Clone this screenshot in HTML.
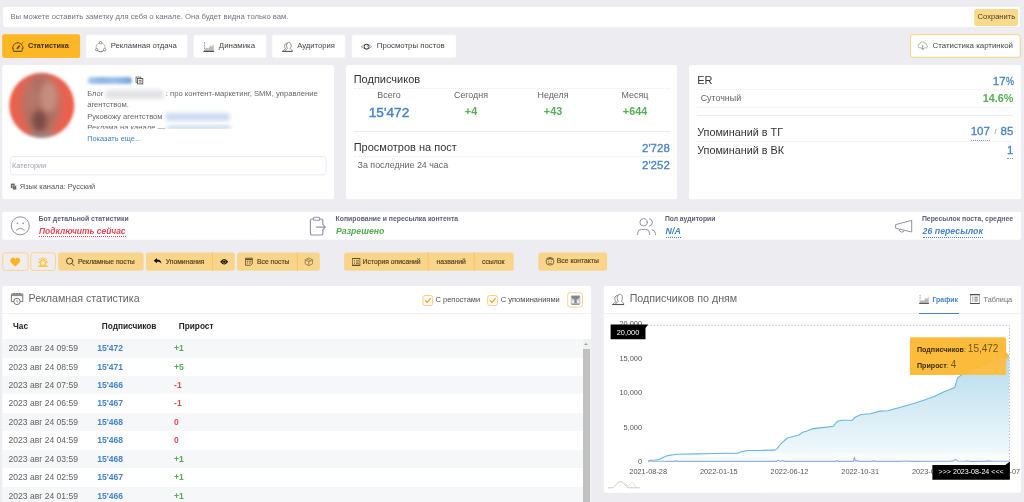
<!DOCTYPE html>
<html><head><meta charset="utf-8">
<style>
*{box-sizing:border-box;margin:0;padding:0}
html,body{width:1024px;height:502px;overflow:hidden;background:#ececf1;font-family:"Liberation Sans",sans-serif;color:#333}
.a{position:absolute}
.w{position:absolute;background:#fff;border-radius:2px}
.t{position:absolute;white-space:nowrap;line-height:1}
.blue{color:#4483c7}.green{color:#52af52}.red{color:#df4854}
.b{font-weight:bold}.i{font-style:italic}
.tab{position:absolute;top:34px;height:24px;font-size:7.75px;color:#44444a}
.tab span{position:absolute;top:8px;white-space:nowrap;line-height:1}
.btn{position:absolute;top:252.4px;height:18.4px;font-size:6.8px;color:#54451f;-webkit-text-stroke:.18px #54451f}
.btn span{position:absolute;top:7px;white-space:nowrap;line-height:1}
.dot{position:absolute;height:0;border-top:1px dotted #ececf0}
.sol{position:absolute;height:1px;background:#ebebee}
.row{position:absolute;left:2px;width:581px;height:18.43px}
.row.g{background:#f6f7f9}
.row span{position:absolute;top:5px;font-size:8.55px;line-height:1;white-space:nowrap}
.row .d{left:6.5px;color:#606066}
.row .s{left:95.3px;color:#4483c7;font-weight:bold}
.row .p{left:172.1px;font-weight:bold;font-size:8.5px;top:5.1px}
.ds{font-size:7.65px;color:#66666c}
.lbl{font-size:6.86px;color:#5c5f70;font-weight:bold}
.val{font-size:8.7px;font-weight:bold;font-style:italic}
.h{font-size:11px;color:#333}
.hv{font-size:11.5px;color:#4483c7;-webkit-text-stroke:.3px #4483c7}
.sm{font-size:8.9px;color:#626268}
.xl{width:60px;text-align:center;top:468.2px;font-size:7.4px;color:#555}
</style></head><body><div id="pg" style="position:absolute;left:0;top:0;width:1024px;height:502px;overflow:hidden;will-change:transform">
<svg class="a" style="left:0;top:0" width="1024" height="502" viewBox="0 0 1024 502"><rect x="3" y="6.9" width="1017" height="20" rx="2" fill="#fff"/><rect x="974.2" y="8.9" width="43.9" height="17" rx="2" fill="#fbd98c"/><rect x="2.2" y="34.3" width="77.9" height="23.8" rx="2" fill="#fdb724"/><rect x="85.7" y="34.6" width="101.99999999999999" height="23.4" rx="2" fill="#fff" stroke="#e9edf6" stroke-width="0.6"/><rect x="193.4" y="34.6" width="72.99999999999997" height="23.4" rx="2" fill="#fff" stroke="#e9edf6" stroke-width="0.6"/><rect x="271.9" y="34.6" width="73.40000000000003" height="23.4" rx="2" fill="#fff" stroke="#e9edf6" stroke-width="0.6"/><rect x="351.7" y="34.6" width="104.5" height="23.4" rx="2" fill="#fff" stroke="#e9edf6" stroke-width="0.6"/><rect x="910.6" y="34.7" width="109.7" height="22.6" rx="2.5" fill="#fff" stroke="#f7d07e" stroke-width="1"/><rect x="2.2" y="65" width="331.8" height="134.3" rx="2" fill="#fff"/><rect x="346" y="65" width="331" height="134.3" rx="2" fill="#fff"/><rect x="689" y="65" width="332" height="134.3" rx="2" fill="#fff"/><rect x="10.5" y="156.5" width="315.5" height="18.3" rx="2.5" fill="#fff" stroke="#e7e9f0" stroke-width="0.9"/><rect x="2.2" y="211.8" width="1018.8" height="27.9" rx="2" fill="#fff"/><rect x="2.7" y="252.8" width="25.4" height="17.6" rx="2.5" fill="#efedee" stroke="#f9d58e" stroke-width="1"/><rect x="30.8" y="252.8" width="24.6" height="17.6" rx="2.5" fill="#efedee" stroke="#f9d58e" stroke-width="1"/><rect x="58.1" y="252.4" width="85.5" height="18.4" rx="2.5" fill="#f8d58b"/><rect x="145.9" y="252.4" width="88.9" height="18.4" rx="2.5" fill="#f8d58b"/><rect x="237" y="252.4" width="82.80000000000001" height="18.4" rx="2.5" fill="#f8d58b"/><rect x="344.1" y="252.4" width="169.60000000000002" height="18.4" rx="2.5" fill="#f8d58b"/><rect x="538.3" y="252.4" width="68.80000000000007" height="18.4" rx="2.5" fill="#f8d58b"/><rect x="211.9" y="252.4" width="0.9" height="18.4" fill="#f4c463"/><rect x="296.90000000000003" y="252.4" width="0.9" height="18.4" fill="#f4c463"/><rect x="427.8" y="252.4" width="0.9" height="18.4" fill="#f4c463"/><rect x="473.8" y="252.4" width="0.9" height="18.4" fill="#f4c463"/><rect x="2.2" y="285.9" width="589" height="230" rx="2" fill="#fff"/><rect x="603.7" y="285.9" width="417.3" height="206.8" rx="2" fill="#fff"/><rect x="422.9" y="295.5" width="9.7" height="9.9" rx="2" fill="#fff" stroke="#f8cf82" stroke-width="1"/><rect x="487.7" y="295.5" width="9.7" height="9.9" rx="2" fill="#fff" stroke="#f8cf82" stroke-width="1"/><rect x="567.7" y="292.7" width="14.8" height="14.4" rx="2.5" fill="#fff" stroke="#f9d48a" stroke-width="1"/><defs><filter id="bl1" x="-20%" y="-20%" width="140%" height="140%"><feGaussianBlur stdDeviation="2.4"/></filter><filter id="bl2" x="-20%" y="-20%" width="140%" height="140%"><feGaussianBlur stdDeviation="1.7"/></filter><clipPath id="avc"><circle cx="41.8" cy="105.4" r="32.6"/></clipPath></defs>
<g filter="url(#bl2)"><g clip-path="url(#avc)"><circle cx="41.8" cy="105.4" r="33" fill="#ea614e"/><g filter="url(#bl1)"><ellipse cx="41" cy="105" rx="21" ry="32" fill="#c4705f"/><ellipse cx="40.5" cy="106" rx="15" ry="30" fill="#ad6e63"/><ellipse cx="48.5" cy="97" rx="8.5" ry="15" fill="#c68d7f"/><ellipse cx="32" cy="98" rx="5" ry="13" fill="#b9766a"/><ellipse cx="39.5" cy="121" rx="7.5" ry="11" fill="#7a4e44"/><ellipse cx="43" cy="137" rx="17" ry="3.6" fill="#9a8a88"/></g></g></g></svg>
<!-- note bar -->
<div class="t" style="left:10.5px;top:13.3px;font-size:7.68px;color:#74747c">Вы можете оставить заметку для себя о канале. Она будет видна только вам.</div>
<div class="t" style="left:977.6px;top:13.3px;font-size:7.57px;color:#4a4020">Сохранить</div>

<!-- tabs -->
<div class="tab" style="left:2.2px;width:78px;color:#3d3015"><span class="b" style="left:25.7px;font-size:7.34px;top:8.3px">Статистика</span></div>
<div class="tab" style="left:85.5px;width:102.3px"><span style="left:25.2px">Рекламная отдача</span></div>
<div class="tab" style="left:193.4px;width:73px"><span style="left:25.4px;font-size:7.9px">Динамика</span></div>
<div class="tab" style="left:271.9px;width:73.4px"><span style="left:25.4px;font-size:7.65px">Аудитория</span></div>
<div class="tab" style="left:351.7px;width:104.5px"><span style="left:25.1px;font-size:7.82px">Просмотры постов</span></div>
<div class="tab" style="left:910.1px;width:110.7px;top:34px;height:24px"><span style="left:22.5px;top:8px;font-size:7.88px">Статистика картинкой</span></div>

<!-- card 1 -->
<div class="a" style="left:87.5px;top:76.6px;width:44px;height:7.2px;border-radius:3px;background:linear-gradient(90deg,#a9c7ea,#8fb6e3 30%,#9dbfe7 60%,#79a8dd 95%);filter:blur(1.5px)"></div>
<div class="t ds" style="left:87.2px;top:90.2px;font-size:7.5px">Блог</div>
<div class="a" style="left:105px;top:89.5px;width:59px;height:9px;border-radius:4px;background:#e2e2e6;filter:blur(2.2px)"></div>
<div class="t ds" style="left:165.8px;top:90.2px">: про контент-маркетинг, SMM, управление</div>
<div class="t ds" style="left:87.2px;top:101.2px">агентством.</div>
<div class="t ds" style="left:87.2px;top:112.9px">Руковожу агентством</div>
<div class="a" style="left:165px;top:112.5px;width:65px;height:8.5px;border-radius:4px;background:#c9dbf0;filter:blur(2.2px)"></div>
<div class="a" style="left:86px;top:124px;width:248px;height:5.4px;overflow:hidden"><div class="t ds" style="left:1.2px;top:0;">Реклама на канале —</div><div class="a" style="left:81px;top:1px;width:64px;height:8px;border-radius:4px;background:#cfdff1;filter:blur(2.2px)"></div></div>
<div class="a" style="left:86px;top:128.4px;width:248px;height:1.2px;background:linear-gradient(rgba(255,255,255,0),#fff)"></div>
<div class="t blue" style="left:87.2px;top:135.4px;font-size:7.4px">Показать еще...</div>
<div class="t" style="left:12px;top:162.2px;font-size:7.3px;color:#a3a3aa">Категории</div>
<div class="t" style="left:19.8px;top:183.2px;font-size:7.45px;color:#55555b">Язык канала: Русский</div>

<!-- card 2 -->
<div class="t h" style="left:353.7px;top:73.8px">Подписчиков</div>
<div class="dot" style="left:353.7px;width:316px;top:88.2px"></div>
<div class="t sm" style="left:348px;width:82px;text-align:center;top:91.2px">Всего</div>
<div class="t sm" style="left:430px;width:82px;text-align:center;top:91.2px">Сегодня</div>
<div class="t sm" style="left:512px;width:82px;text-align:center;top:91.2px">Неделя</div>
<div class="t sm" style="left:594px;width:82px;text-align:center;top:91.2px">Месяц</div>
<div class="t blue" style="left:348px;width:82px;text-align:center;top:105.5px;font-size:13.6px;-webkit-text-stroke:.4px #4483c7">15'472</div>
<div class="t green b" style="left:430px;width:82px;text-align:center;top:105.6px;font-size:10.8px">+4</div>
<div class="t green b" style="left:512px;width:82px;text-align:center;top:105.6px;font-size:10.8px">+43</div>
<div class="t green b" style="left:594px;width:82px;text-align:center;top:105.6px;font-size:10.8px">+644</div>
<div class="sol" style="left:353.7px;width:316px;top:131px"></div>
<div class="t h" style="left:353.7px;top:142px">Просмотров на пост</div>
<div class="t hv" style="right:354.2px;top:142.9px">2'728</div>
<div class="dot" style="left:353.7px;width:316px;top:155.7px"></div>
<div class="t sm" style="left:357.6px;top:160.6px">За последние 24 часа</div>
<div class="t hv" style="right:354.2px;top:160.1px">2'252</div>

<!-- card 3 -->
<div class="t h" style="left:697.2px;top:75px">ER</div>
<div class="t hv" style="right:10.6px;top:76.1px">17<span style="display:inline-block;width:7.8px"><span style="display:inline-block;transform:scaleX(.78);transform-origin:left">%</span></span></div>
<div class="dot" style="left:697.2px;width:316.2px;top:88.8px"></div>
<div class="t sm" style="left:700.7px;top:93.9px">Суточный</div>
<div class="t green b" style="right:10.6px;top:92.8px;font-size:10.8px">14.6%</div>
<div class="dot" style="left:697.2px;width:316.2px;top:106.8px"></div>
<div class="sol" style="left:697.2px;width:316.2px;top:115px"></div>
<div class="t h" style="left:697.2px;top:126.6px;font-size:10.8px">Упоминаний в ТГ</div>
<div class="t hv" style="right:10.6px;top:126.3px"><span style="border-bottom:1.2px dotted #6d9cd3;padding-bottom:2.4px">107</span><span style="font-size:7px;color:#77777c;vertical-align:1px;-webkit-text-stroke:0;padding:0 4.2px 0 4.6px">/</span>85</div>
<div class="dot" style="left:697.2px;width:316.2px;top:141px"></div>
<div class="t h" style="left:697.2px;top:145.1px;font-size:10.8px">Упоминаний в ВК</div>
<div class="t hv" style="right:10.6px;top:144.8px"><span style="border-bottom:1.2px dotted #6d9cd3;padding-bottom:2.4px">1</span></div>

<!-- info strip -->
<div class="t lbl" style="left:38.6px;top:215.6px">Бот детальной статистики</div>
<div class="t val red" style="left:39px;top:226.6px;font-size:8.44px;border-bottom:1px dotted #df4854;padding-bottom:1.2px">Подключить сейчас</div>
<div class="t lbl" style="left:335.6px;top:215.6px">Копирование и пересылка контента</div>
<div class="t val green" style="left:336px;top:226.6px">Разрешено</div>
<div class="t lbl" style="left:664.9px;top:215.6px;font-size:6.75px">Пол аудитории</div>
<div class="t val blue" style="left:665.5px;top:226.6px;font-size:8.9px;border-bottom:1px dotted #4483c7;padding-bottom:1.2px">N/A</div>
<div class="t lbl" style="left:921.9px;top:215.6px">Пересылок поста, среднее</div>
<div class="t val blue" style="left:922.6px;top:226.6px;font-size:8.77px;border-bottom:1px dotted #4483c7;padding-bottom:1.2px">26 пересылок</div>

<!-- buttons -->
<div class="btn" style="left:2.2px;width:26.3px"></div>
<div class="btn" style="left:30.3px;width:25.6px"></div>
<div class="btn" style="left:58.1px;width:85.5px"><span style="left:20px">Рекламные посты</span></div>
<div class="btn" style="left:145.9px;width:88.9px"><span style="left:19.8px">Упоминания</span></div>
<div class="btn" style="left:237px;width:82.8px"><span style="left:20px">Все посты</span></div>
<div class="btn" style="left:344.1px;width:169.6px"><span style="left:18.5px">История описаний</span><span style="left:92.5px">названий</span><span style="left:137.9px">ссылок</span></div>
<div class="btn" style="left:538.3px;width:68.8px"><span style="left:18.5px;top:6px">Все контакты</span></div>

<!-- left panel -->
<div class="t" style="left:28.5px;top:293px;font-size:10.68px;color:#66666c">Рекламная статистика</div>
<div class="sol" style="left:2.2px;width:589px;top:313.2px;background:#f0f1f5"></div>
<div class="t b" style="left:13px;top:322.6px;font-size:8.28px;color:#222">Час</div>
<div class="t b" style="left:101.8px;top:322.6px;font-size:8.28px;color:#222">Подписчиков</div>
<div class="t b" style="left:178.8px;top:322.6px;font-size:8.28px;color:#222">Прирост</div>
<div class="row g" style="top:339.10px"><span class="d">2023 авг 24 09:59</span><span class="s">15'472</span><span class="p green">+1</span></div>
<div class="row" style="top:357.53px"><span class="d">2023 авг 24 08:59</span><span class="s">15'471</span><span class="p green">+5</span></div>
<div class="row g" style="top:375.96px"><span class="d">2023 авг 24 07:59</span><span class="s">15'466</span><span class="p red">-1</span></div>
<div class="row" style="top:394.39px"><span class="d">2023 авг 24 06:59</span><span class="s">15'467</span><span class="p red">-1</span></div>
<div class="row g" style="top:412.82px"><span class="d">2023 авг 24 05:59</span><span class="s">15'468</span><span class="p red">0</span></div>
<div class="row" style="top:431.25px"><span class="d">2023 авг 24 04:59</span><span class="s">15'468</span><span class="p red">0</span></div>
<div class="row g" style="top:449.68px"><span class="d">2023 авг 24 03:59</span><span class="s">15'468</span><span class="p green">+1</span></div>
<div class="row" style="top:468.11px"><span class="d">2023 авг 24 02:59</span><span class="s">15'467</span><span class="p green">+1</span></div>
<div class="row g" style="top:486.54px"><span class="d">2023 авг 24 01:59</span><span class="s">15'466</span><span class="p green">+1</span></div>

<!-- scrollbar -->
<div class="a" style="left:582.6px;top:339.1px;width:8.6px;height:170px;background:#f1f1f1"></div>
<div class="a" style="left:582.9px;top:349px;width:7.6px;height:160px;background:#c1c1c1"></div>
<div class="a" style="left:584.4px;top:343px;width:0;height:0;border-left:2.2px solid transparent;border-right:2.2px solid transparent;border-bottom:2.6px solid #a0a0a0"></div>
<!-- checkboxes -->
<div class="t" style="left:435.6px;top:295.8px;font-size:7.47px;color:#4a4a50">С репостами</div>
<div class="t" style="left:500.7px;top:295.8px;font-size:7.54px;color:#4a4a50">С упоминаниями</div>

<!-- right panel -->
<div class="t" style="left:629.7px;top:293px;font-size:10.7px;color:#66666c">Подписчиков по дням</div>
<div class="sol" style="left:603.7px;width:417.3px;top:313.4px;background:#f0f1f5"></div>
<div class="t b blue" style="left:932.4px;top:297.1px;font-size:6.95px">График</div>
<div class="a" style="left:919.2px;top:312.6px;width:39.4px;height:1.3px;background:#4483c7"></div>
<div class="t" style="left:983.6px;top:296px;font-size:7.29px;color:#707076">Таблица</div>

<!-- y labels -->
<div class="t" style="right:382px;top:319.6px;font-size:7.4px;color:#555">20,000</div>
<div class="t" style="right:382px;top:354.8px;font-size:7.4px;color:#555">15,000</div>
<div class="t" style="right:382px;top:389.3px;font-size:7.4px;color:#555">10,000</div>
<div class="t" style="right:382px;top:423.7px;font-size:7.4px;color:#555">5,000</div>
<div class="t" style="right:382px;top:457.8px;font-size:7.4px;color:#555">0</div>
<!-- x labels -->
<div class="t xl" style="left:618.2px">2021-08-28</div>
<div class="t xl" style="left:688.8px">2022-01-15</div>
<div class="t xl" style="left:759.5px">2022-06-12</div>
<div class="t xl" style="left:830.2px">2022-10-31</div>
<div class="t xl" style="left:900.8px">2023-03-20</div>
<div class="t xl" style="left:971.3px">2023-08-07</div>

<svg class="a" style="left:0;top:0" width="1024" height="502" viewBox="0 0 1024 502">

<defs><linearGradient id="gf" gradientUnits="userSpaceOnUse" x1="0" y1="325" x2="0" y2="455"><stop offset="0" stop-color="#67b7dc" stop-opacity="0.6"/><stop offset="1" stop-color="#67b7dc" stop-opacity="0.05"/></linearGradient>
<clipPath id="cp"><rect x="640" y="320" width="380" height="133.5"/></clipPath></defs>
<path d="M648.2,461.4 L651.0,460.3 L655.0,460.0 L659.0,459.5 L663.0,457.6 L668.0,455.6 L673.0,454.7 L678.0,454.2 L698.4,453.9 L713.6,453.5 L738.2,453.1 L742.0,451.6 L747.7,450.5 L759.0,450.5 L774.9,450.1 L777.2,448.6 L779.9,444.8 L783.6,441.4 L787.4,438.0 L793.1,436.5 L798.8,435.0 L802.6,432.3 L806.4,431.2 L812.0,428.9 L817.7,428.1 L824.8,427.4 L833.5,426.2 L837.3,421.3 L841.9,420.2 L852.5,420.2 L855.1,417.2 L860.8,414.5 L870.3,413.7 L879.7,411.1 L887.3,410.7 L898.7,407.7 L913.8,403.5 L925.2,399.7 L934.6,396.3 L944.1,391.8 L954.7,387.6 L957.4,378.2 L961.1,375.1 L974.4,368.7 L985.8,363.8 L997.1,358.5 L1009.0,355.5 L1009,461.5 L648.2,461.5 Z" fill="url(#gf)" clip-path="url(#cp)"/>
<path d="M648.2,461.4 L651.0,460.3 L655.0,460.0 L659.0,459.5 L663.0,457.6 L668.0,455.6 L673.0,454.7 L678.0,454.2 L698.4,453.9 L713.6,453.5 L738.2,453.1 L742.0,451.6 L747.7,450.5 L759.0,450.5 L774.9,450.1 L777.2,448.6 L779.9,444.8 L783.6,441.4 L787.4,438.0 L793.1,436.5 L798.8,435.0 L802.6,432.3 L806.4,431.2 L812.0,428.9 L817.7,428.1 L824.8,427.4 L833.5,426.2 L837.3,421.3 L841.9,420.2 L852.5,420.2 L855.1,417.2 L860.8,414.5 L870.3,413.7 L879.7,411.1 L887.3,410.7 L898.7,407.7 L913.8,403.5 L925.2,399.7 L934.6,396.3 L944.1,391.8 L954.7,387.6 L957.4,378.2 L961.1,375.1 L974.4,368.7 L985.8,363.8 L997.1,358.5 L1009.0,355.5 L1009,461.5 L648.2,461.5 Z" fill="#67b7dc" fill-opacity="0.03"/>
<path d="M648.2,461.4 L651.0,460.3 L655.0,460.0 L659.0,459.5 L663.0,457.6 L668.0,455.6 L673.0,454.7 L678.0,454.2 L698.4,453.9 L713.6,453.5 L738.2,453.1 L742.0,451.6 L747.7,450.5 L759.0,450.5 L774.9,450.1 L777.2,448.6 L779.9,444.8 L783.6,441.4 L787.4,438.0 L793.1,436.5 L798.8,435.0 L802.6,432.3 L806.4,431.2 L812.0,428.9 L817.7,428.1 L824.8,427.4 L833.5,426.2 L837.3,421.3 L841.9,420.2 L852.5,420.2 L855.1,417.2 L860.8,414.5 L870.3,413.7 L879.7,411.1 L887.3,410.7 L898.7,407.7 L913.8,403.5 L925.2,399.7 L934.6,396.3 L944.1,391.8 L954.7,387.6 L957.4,378.2 L961.1,375.1 L974.4,368.7 L985.8,363.8 L997.1,358.5 L1009.0,355.5" fill="none" stroke="#67b7dc" stroke-width="1.1" stroke-linejoin="round"/>
<path d="M648.2,461.4 L650.0,460.6 L653.0,461.2 L660.0,461.3 L674.0,461.4 L676.0,460.9 L678.0,461.4 L776.0,461.4 L778.0,460.2 L780.0,461.3 L783.0,460.6 L785.0,461.4 L835.0,461.4 L837.0,460.6 L839.0,461.4 L853.5,461.4 L854.4,457.2 L855.3,461.0 L857.0,460.6 L859.0,461.4 L872.0,461.4 L874.0,460.9 L876.0,461.4 L900.0,461.4 L905.0,461.0 L910.0,461.4 L950.0,461.2 L953.0,460.9 L955.5,459.6 L958.0,461.0 L965.0,461.3 L967.0,460.8 L970.0,461.3 L985.0,461.3 L988.0,460.9 L993.0,461.2 L1009.0,461.3" fill="none" stroke="#8fb0e2" stroke-width="1.15" stroke-linejoin="round"/>
<path d="M647.5,325.3 H1009.5 V461.5" fill="none" stroke="#9a9aa2" stroke-width="0.7" stroke-dasharray="1.3,1.9"/>

<!-- tooltip -->
<path d="M911.4,337.2 H1004.6 a1.5,1.5 0 0 1 1.5,1.5 V352.4 L1009.4,356.1 L1006.1,359.8 V373.4 a1.5,1.5 0 0 1 -1.5,1.5 H911.4 a1.5,1.5 0 0 1 -1.5,-1.5 V338.7 a1.5,1.5 0 0 1 1.5,-1.5Z" fill="#fdb833" fill-opacity=".96"/>
<clipPath id="ttc"><rect x="909.9" y="337.2" width="96.2" height="37.7"/></clipPath><path d="M957.4,378.2 L961.1,375.1 L974.4,368.7 L985.8,363.8 L997.1,358.5 L1009,355.5 V380 H957Z" fill="#fff" fill-opacity=".07" clip-path="url(#ttc)"/>
<!-- black labels -->
<path d="M610.6,324.6 H648.2 L645.5,328 V339.3 H610.6Z" fill="#000"/>
<path d="M932.4,464.9 H1005.4 L1009.9,461.5 V479.7 H932.4Z" fill="#000"/>

<!-- speedometer -->
<g fill="none" stroke="#5a4311" stroke-opacity=".9" stroke-width=".9" stroke-linecap="round">
<path d="M13.4,50.7 A5.2,5.2 0 1 1 22.2,50.7"/><path d="M14,51.3 H21.6" stroke-width="1.3"/>
<path d="M17.4,48.3 L19.3,46.2" stroke-width="1.8"/><path d="M12.6,48.2h1.1M21.9,48.2h1.1M21.6,43.8l1.3,-1.3M17.8,42.4v.9" stroke-width=".8"/></g>
<!-- nodes -->
<g fill="none" stroke="#8c8c92" stroke-width=".75"><path d="M101.76,42.95 A4.5,4.5 0 0 1 104.95,48.46 M96.25,48.46 A4.5,4.5 0 0 1 99.44,42.95" stroke="#a0a0a6"/>
<circle cx="100.5" cy="42.7" r="1.15" fill="#fff" stroke="#6a6a70"/><circle cx="96.7" cy="49.6" r="1.15" fill="#fff" stroke="#6a6a70"/><circle cx="104.6" cy="49.6" r="1.15" fill="#fff" stroke="#6a6a70"/>
<path d="M103.78,50.48 A4.5,4.5 0 0 1 97.42,50.48" stroke="#66666c" stroke-width=".95"/></g>
<!-- area chart tab -->
<g><path d="M204.8,51 V49.2 L206.6,47.6 L208.2,48.7 L210.6,45.5 L212,46.7 L213.7,44 V51 Z" fill="#b9b9bb"/><path d="M204.5,42.2 V51" stroke="#8a8a90" stroke-width=".9" stroke-dasharray="1.6,1" fill="none"/><path d="M203.5,51.4 H214.1" stroke="#4a4a4e" stroke-width="1.1"/></g>
<!-- users tab -->
<g id="usr" fill="none" stroke="#77777c" stroke-width=".8" stroke-linejoin="round">
<path d="M283.3,51 C283.3,49.6 284.8,49.6 285.6,48.8 C284.2,47.6 284,44 286.3,43.4 C287.2,43.2 287.6,43.6 287.6,43.6"/>
<path d="M285.2,51 C285.2,49.4 287.2,49.6 287.6,48.4 C286,47 286,42.4 288.8,42.3 C291.6,42.4 291.6,47 290,48.4 C290.4,49.6 292.4,49.4 292.4,51"/>
<path d="M282,51.4 H292.7" stroke="#555" stroke-width="1.1"/></g>
<!-- eye tab -->
<g fill="none" stroke="#66666a" stroke-width=".8"><path d="M361.2,46.7 Q366.5,42.2 371.9,46.7 Q366.5,51.2 361.2,46.7Z" stroke="#99999d"/><circle cx="366.6" cy="46.7" r="2.5" stroke="#333" stroke-width="1"/><circle cx="367.3" cy="46.2" r=".8" fill="#999" stroke="none"/></g>
<!-- cloud download -->
<g fill="none" stroke="#9a9aa0" stroke-width=".8" stroke-linecap="round" transform="translate(922.7,45.5) scale(.92) translate(-922.7,-45.3)"><path d="M920.6,47.9 H919.9 A2.1,2.1 0 0 1 919.5,43.7 A2.7,2.7 0 0 1 924.3,42.3 A2.6,2.6 0 0 1 927,44.9 A1.6,1.6 0 0 1 926,47.9 H924.8"/><path d="M922.7,45.4 V49.4 M921.4,48.2 L922.7,49.5 L924,48.2" stroke="#77777c"/></g>
<!-- copy icon -->
<g fill="none" stroke="#555" stroke-width=".8"><rect x="136" y="77.1" width="4.8" height="5.2" fill="#fff"/><rect x="137.6" y="78.5" width="5.2" height="5.4" fill="#fff" stroke="#444"/><path d="M138.8,80.3h2.8M138.8,82h2.8" stroke-width=".9"/></g>
<!-- lang icon -->
<g><rect x="10.9" y="183.6" width="3.8" height="4.4" fill="#666"/><rect x="12.6" y="185.3" width="3.8" height="4.5" fill="#555" stroke="#fff" stroke-width=".4"/><path d="M13.5,186.6h2M13.5,188.2h2" stroke="#ddd" stroke-width=".5"/></g>
<!-- sad face -->
<g fill="none" stroke="#8f91a4" stroke-width="1"><circle cx="20.3" cy="225.8" r="9"/><path d="M16.3,230.2 Q20.3,226.4 24.3,230.2" stroke-linecap="round"/><circle cx="17.5" cy="223.3" r=".9" fill="#8f91a4" stroke="none"/><circle cx="23.1" cy="223.3" r=".9" fill="#8f91a4" stroke="none"/></g>
<!-- clipboard -->
<g fill="none" stroke="#9496a8" stroke-width="1.15" stroke-linecap="round" stroke-linejoin="round"><path d="M322.8,224 V220.6 a1.6,1.6 0 0 0 -1.6,-1.6 H312 a1.6,1.6 0 0 0 -1.6,1.6 V233.4 a1.6,1.6 0 0 0 1.6,1.6 H321.2 a1.6,1.6 0 0 0 1.6,-1.6 V230.2"/><rect x="313.5" y="217.2" width="6.2" height="3" rx="1" fill="#fff"/><path d="M316.4,227.1 H325.3 M322.7,224.4 L325.4,227.1 L322.7,229.8"/></g>
<!-- users strip -->
<g fill="none" stroke="#8f91a4" stroke-width="1" stroke-linecap="round"><circle cx="643.6" cy="222.3" r="3.7"/><path d="M637.6,234.6 V233.4 a4,4 0 0 1 4,-4 H645.6 a4,4 0 0 1 4,4 V234.6"/><path d="M649.6,218.7 a3.7,3.7 0 0 1 0,7.2"/><path d="M652,229.6 a4,4 0 0 1 3.4,3.9 V234.6"/></g>
<!-- megaphone -->
<g fill="none" stroke="#8f91a4" stroke-width="1" stroke-linejoin="round"><path d="M895.6,224.6 L911.7,220.4 V232 L895.6,228.2 Z"/><path d="M899.3,229.3 a2.6,2.6 0 0 0 5,1.2"/></g>
<!-- heart -->
<path d="M15.25,266.6 C12,263.8 10.2,262.3 10.2,260.3 C10.2,258.8 11.4,257.7 12.8,257.7 C13.8,257.7 14.7,258.2 15.25,259 C15.8,258.2 16.7,257.7 17.7,257.7 C19.1,257.7 20.3,258.8 20.3,260.3 C20.3,262.3 18.5,263.8 15.25,266.6Z" fill="#fdb41e"/>
<!-- siren -->
<g fill="none" stroke="#fdb41e" stroke-width=".9" stroke-linecap="round"><path d="M38.6,266.3 H47.4" stroke-width="1.1"/><path d="M40.2,264.8 V262.6 a2.8,2.8 0 0 1 5.6,0 V264.8 Z" fill="#fde2a3"/><path d="M43,258 v1 M39,259 l.9,.9 M47,259 l-.9,.9 M38.4,262h1 M46.6,262h1 M41,258.3l.4,.9 M45,258.3l-.4,.9"/><path d="M43,262.4v1.6" stroke="#fff"/></g>
<!-- search -->
<g fill="none" stroke="#5d4d28" stroke-width="1" stroke-linecap="round"><circle cx="69.6" cy="261.1" r="3.1"/><path d="M72,263.5 L74,265.6"/></g>
<!-- reply -->
<path d="M153.7,260.7 L157,258.1 V259.6 C160.1,259.7 161.4,261.2 161.4,263.8 C160.6,262.4 159.5,261.8 157,261.8 V263.3 Z" fill="#111"/>
<!-- eye filled -->
<g><path d="M220.2,261.8 Q224.2,256.4 228.2,261.8 Q224.2,267.2 220.2,261.8Z" fill="#111"/><circle cx="224.2" cy="261.8" r="1.5" fill="none" stroke="#f8d58b" stroke-width=".55"/></g>
<!-- doc icon -->
<g fill="none" stroke="#5d4d28" stroke-width=".85"><path d="M245.6,258.2 H252.3 V263.6 L250.4,265.3 H245.6 Z"/><path d="M245.6,259.4H252.3" stroke-width="1.3"/><path d="M247,261.3h1.2M249.2,261.3h2M247,263h1.2M249.2,263h1.6" stroke-width=".8"/></g>
<!-- cube -->
<g fill="none" stroke="#8b7544" stroke-width=".8" stroke-linejoin="round"><path d="M308.85,257.9 L312.5,259.8 V263.8 L308.85,265.7 L305.2,263.8 V259.8Z"/><path d="M305.2,259.8 L308.85,261.7 L312.5,259.8 M308.85,261.7 V265.7 M307,258.9 L310.7,260.8"/></g>
<!-- list icon -->
<g fill="none" stroke="#5d4d28"><rect x="352.5" y="258.4" width="7.4" height="7" stroke-width=".7"/><path d="M352.2,258.5H360.2M352.2,265.4H360.2" stroke-width="1.1"/><path d="M354,260.6h1M356,260.6h2.8M354,262.1h1M356,262.1h2.8M354,263.6h1M356,263.6h2.8" stroke-width=".7"/></g>
<!-- face circle -->
<g fill="none" stroke="#6d5b33" stroke-width=".85"><circle cx="550" cy="261.3" r="3.9"/><path d="M547.3,259.6 Q550,257.6 552.7,259.6" stroke-width="1.1"/><path d="M548.3,263.2 Q550,264.6 551.7,263.2"/><circle cx="548.7" cy="261.3" r=".55" fill="#6d5b33" stroke="none"/><circle cx="551.3" cy="261.3" r=".55" fill="#6d5b33" stroke="none"/></g>
<!-- calendar clock -->
<g fill="none" stroke="#67676c" stroke-width=".9"><path d="M14,301.6 H11.4 V294 H22.8 V301.6 H20.2"/><path d="M11.4,295.2 H22.8" stroke-width="1.8" stroke="#8a8a8e"/><path d="M14.2,293v1.2M17,293v1.2M19.8,293v1.2" stroke="#444" stroke-width="1"/><circle cx="17" cy="301.4" r="3.2" fill="#fff"/><path d="M16.9,299.8 V301.6 L18,302.4" stroke-width=".7"/></g>
<!-- check marks -->
<g fill="none" stroke="#f6a723" stroke-width="1.3" stroke-linecap="round" stroke-linejoin="round"><path d="M425.3,300.6 L427.2,302.5 L430.4,298.4"/><path d="M490.1,300.6 L492,302.5 L495.2,298.4"/></g>
<!-- funnel icon -->
<g><rect x="570.8" y="295.1" width="9.5" height="9.7" rx="1.4" fill="#c9c9ce"/><path d="M571.4,296 H579.7 V297.3 Q579.7,298.9 576.6,299.2 V303 H574.5 V299.2 Q571.4,298.9 571.4,297.3Z" fill="#85858c"/><rect x="572.4" y="300.4" width="1.4" height="2.6" fill="#fff"/><rect x="577.3" y="300.4" width="1.4" height="2.6" fill="#fff"/><path d="M571.6,304.2H579.5" stroke="#77777e" stroke-width=".9"/></g>
<!-- users panel icon -->
<g fill="none" stroke="#77777c" stroke-width=".85" stroke-linejoin="round" transform="translate(330.6,253) scale(1.0)">
<path d="M283.0,51 C283.0,49.4 284.6,49.4 285.4,48.6 C283.8,47.2 283.6,43.4 286.2,42.6 C287.2,42.4 287.8,42.9 287.8,42.9"/>
<path d="M285.2,51 C285.2,49.2 287.4,49.4 287.8,48.2 C286,46.6 286,41.4 289.2,41.3 C292.4,41.4 292.4,46.6 290.6,48.2 C291,49.4 293.2,49.2 293.2,51"/>
<path d="M281.6,51.5 H293.5" stroke="#555" stroke-width="1.1"/></g>
<!-- chart tab icon -->
<g transform="translate(729.9,256.1) scale(0.93,0.92)"><path d="M204.8,51 V49.2 L206.6,47.6 L208.2,48.7 L210.6,45.5 L212,46.7 L213.7,44 V51 Z" fill="#b9b9bb"/><path d="M204.5,42.2 V51" stroke="#8a8a90" stroke-width=".9" stroke-dasharray="1.6,1" fill="none"/><path d="M203.5,51.4 H214.1" stroke="#4a4a4e" stroke-width="1.1"/></g>
<!-- table icon -->
<g fill="none" stroke="#4c4c50"><rect x="970.5" y="294.6" width="8.8" height="8.8" stroke-width=".7" stroke="#88888c"/><path d="M970.2,294.6H979.7M970.2,303.5H979.7" stroke-width="1.1"/><path d="M972.2,297.2h1.1M974.4,297.2h3.4M972.2,299.1h1.1M974.4,299.1h3.4M972.2,301h1.1M974.4,301h3.4" stroke-width=".8"/></g>
<!-- amcharts logo -->
<g fill="none" stroke-linecap="round" stroke-linejoin="round"><path d="M608.4,487.8 H612 C615.5,487.8 616.5,481.6 620.5,481.6 C624.5,481.6 625,487.8 629.5,487.8 H639.6" stroke="#c4c4c6" stroke-width=".9"/><path d="M625,484.2 L628.4,485.7 L631.6,482.6 C632.8,481.6 633.4,483.2 634.4,485 L635.4,486.6" stroke="#d9d9db" stroke-width=".8"/></g>

</svg>
<div class="t" style="left:616.7px;top:328.5px;font-size:7.39px;color:#fff">20,000</div>
<div class="t" style="left:938.5px;top:469.4px;font-size:7.11px;color:#fff">&gt;&gt;&gt; 2023-08-24 &lt;&lt;&lt;</div>
<div class="t" style="left:917px;top:343.6px;font-size:10px;color:#6b5620"><b style="font-size:7.1px;color:#3a2d10">Подписчиков</b><span style="font-size:7.1px">: </span>15,472</div>
<div class="t" style="left:917px;top:360.3px;font-size:10px;color:#6b5620"><b style="font-size:7.1px;color:#3a2d10">Прирост</b><span style="font-size:7.1px">: </span>4</div>
</div></body></html>
